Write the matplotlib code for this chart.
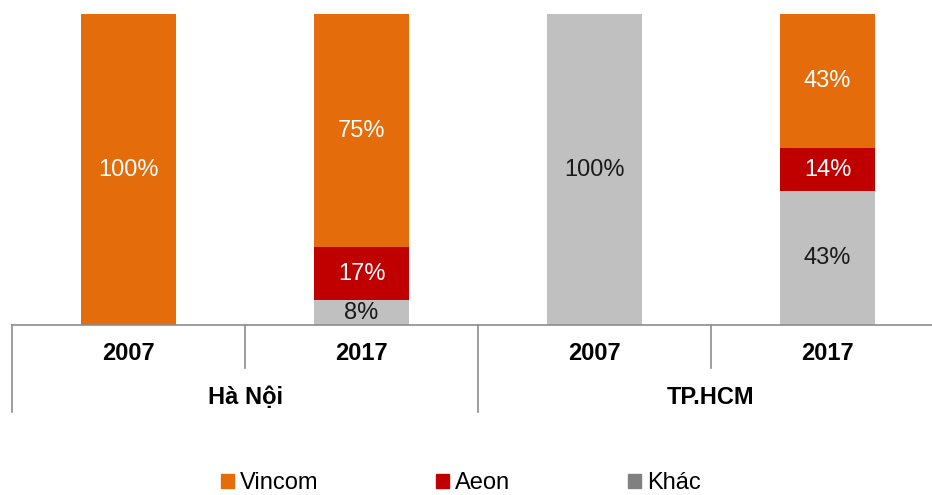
import numpy as np
import matplotlib.pyplot as plt
from matplotlib.patches import Patch
import matplotlib.transforms as mtransforms

plt.rcParams['font.family'] = ['Liberation Sans', 'DejaVu Sans']

years = ['2007', '2017', '2007', '2017']
cities = ['Hà Nội', 'TP.HCM']
khac = [0, 8, 100, 43]
aeon = [0, 17, 0, 14]
vincom = [100, 75, 0, 43]

c_vincom = '#E46C0A'
c_aeon = '#C00000'
c_khac = '#C0C0C0'
c_khac_leg = '#808080'
line_c = '#8C8C8C'
fs = 17

W, H = 932, 495
fig = plt.figure(figsize=(W / 100, H / 100), dpi=100)
# axes spans 12px .. 944px horizontally, 14px .. 325px vertically
ax = fig.add_axes([12 / W, 1 - 325 / H, 932 / W, 311 / H])

x = np.arange(len(years))
bw = 95 / 233
b1 = ax.bar(x, khac, bw, color=c_khac)
b2 = ax.bar(x, aeon, bw, bottom=khac, color=c_aeon)
b3 = ax.bar(x, vincom, bw, bottom=np.array(khac) + np.array(aeon), color=c_vincom)

for bars, vals, bots, tc in [(b1, khac, [0] * 4, '#1a1a1a'),
                             (b2, aeon, khac, 'white'),
                             (b3, vincom, list(np.array(khac) + np.array(aeon)), 'white')]:
    for b, v, bt in zip(bars, vals, bots):
        if v > 0:
            ax.text(b.get_x() + b.get_width() / 2, bt + v / 2, '%d%%' % v,
                    ha='center', va='center', color=tc, fontsize=fs)

ax.set_xlim(-0.5, 3.5)
ax.set_ylim(0, 100)
ax.axis('off')

trans = mtransforms.blended_transform_factory(ax.transData, ax.transAxes)
ax.plot([-0.5, 3.5], [0, 0], color=line_c, lw=1.2, transform=trans, clip_on=False)
# separators
for xs, yb in [(-0.5, -0.28), (0.5, -0.138), (1.5, -0.28), (2.5, -0.138)]:
    ax.plot([xs, xs], [0, yb], color=line_c, lw=1.2, transform=trans, clip_on=False)

for xi, yr in zip(x, years):
    ax.text(xi, -29 / 311, yr, ha='center', va='center', fontsize=fs,
            fontweight='bold', transform=trans)
for gi, city in enumerate(cities):
    ax.text(gi * 2 + 0.5, -72 / 311, city, ha='center', va='center', fontsize=fs,
            fontweight='bold', transform=trans)

handles = [Patch(color=c_vincom), Patch(color=c_aeon), Patch(color=c_khac_leg)]
fig.legend(handles, ['Vincom', 'Aeon', 'Khác'], loc='center',
           bbox_to_anchor=(461 / W, 1 - 483 / H), ncol=3, frameon=False,
           fontsize=fs, handlelength=0.55, handleheight=0.55,
           handletextpad=0.25, columnspacing=5.0, borderpad=0.1)

fig.savefig('out.png', dpi=100)
